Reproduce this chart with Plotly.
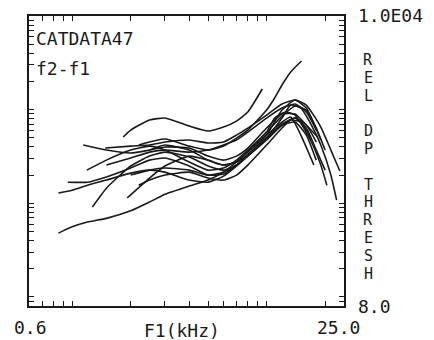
import plotly.graph_objects as go
import math

# frequency (kHz) and relative DP threshold values for each traced curve
c1_f = [0.85, 1.0, 1.2, 1.5, 2, 2.5, 3, 4, 5, 6, 7, 8, 10, 12, 13.3, 15, 17.5]
c1_v = [48, 56, 63, 69, 83, 103, 125, 153, 177, 215, 276, 352, 535, 737, 834, 535, 256]

c2_f = [0.85, 1.0, 1.2, 1.5, 2, 2.5, 3, 4, 5, 6, 7, 8, 10, 12, 13.3, 15, 17, 19, 21.4, 22.9]
c2_v = [129, 138, 156, 177, 210, 226, 215, 177, 168, 195, 250, 319, 497, 813, 1120, 1040, 685, 419, 200, 108]

c3_f = [0.95, 1.2, 1.5, 2, 2.5, 3, 4, 5, 6, 7, 8, 10, 12, 14, 16, 19, 21.4, 23.8]
c3_v = [168, 168, 191, 238, 289, 304, 250, 200, 205, 256, 327, 535, 990, 1266, 1120, 652, 370, 221]

c4_f = [1.19, 1.5, 2, 2.5, 3, 4, 5, 6, 7, 8, 10, 11, 12.5, 14, 16.8, 19, 20.4]
c4_v = [226, 289, 370, 408, 370, 276, 226, 238, 289, 370, 576, 813, 943, 876, 474, 256, 156]

c5_f = [1.14, 1.5, 2, 2.5, 3, 4, 5, 6, 7, 8, 10, 12, 14, 16, 18.3]
c5_v = [419, 370, 344, 370, 399, 389, 319, 289, 319, 389, 636, 897, 897, 685, 510]

c6_f = [1.48, 2, 2.5, 3, 4, 5, 6, 7, 8, 10, 12, 14, 16, 19]
c6_v = [389, 408, 419, 451, 474, 440, 451, 535, 636, 876, 1148, 1266, 1040, 474]

c7_f = [1.83, 2, 2.5, 3, 4, 5, 6, 7, 8, 9.5]
c7_v = [510, 605, 774, 813, 668, 591, 652, 755, 943, 1661]

c8_f = [1.27, 1.5, 2, 2.5, 3, 4, 5, 6, 7, 8, 10, 12, 14, 16, 18]
c8_v = [91, 145, 250, 319, 352, 312, 250, 226, 256, 319, 474, 685, 813, 685, 451]

c9_f = [1.92, 2.5, 3, 4, 5, 6, 7, 8, 10, 12, 14, 16, 18, 20]
c9_v = [114, 186, 250, 319, 289, 256, 276, 352, 576, 854, 1093, 990, 636, 370]

c10_f = [2.2, 3, 4, 5, 6, 7, 8, 10, 11, 12, 13.3, 15.1]
c10_v = [419, 485, 408, 370, 408, 497, 605, 990, 1330, 1831, 2522, 3306]

c11_f = [2.5, 3, 4, 5, 6, 7, 8, 10, 12, 14, 16, 18, 20]
c11_v = [370, 419, 370, 289, 256, 276, 327, 497, 702, 813, 636, 370, 226]

c12_f = [2, 2.5, 3, 4, 5, 6, 7, 8, 10, 12, 14, 16, 18]
c12_v = [200, 226, 238, 226, 200, 215, 256, 327, 497, 685, 737, 535, 289]

c13_f = [1.5, 2, 2.5, 3, 4, 5, 6, 7, 8, 10, 12, 14, 16, 18]
c13_v = [256, 304, 352, 370, 352, 370, 419, 474, 576, 813, 1040, 1148, 943, 605]

c14_f = [2.2, 2.5, 3, 4, 5, 6, 7, 8, 10, 12, 13.3, 15, 17]
c14_v = [156, 177, 200, 215, 186, 177, 200, 256, 419, 636, 774, 737, 474]

curves = [(c1_f, c1_v), (c2_f, c2_v), (c3_f, c3_v), (c4_f, c4_v), (c5_f, c5_v),
          (c6_f, c6_v), (c7_f, c7_v), (c8_f, c8_v), (c9_f, c9_v), (c10_f, c10_v),
          (c11_f, c11_v), (c12_f, c12_v), (c13_f, c13_v), (c14_f, c14_v)]

x_min, x_max = 0.6, 25.0
y_min, y_max = 8.0, 1.0e4

x_tick_vals = [0.6, 0.7, 0.8, 0.9, 1, 2, 3, 4, 5, 6, 7, 8, 9, 10, 20]
y_tick_vals = [8, 9] + [m * 10 ** d for d in range(1, 4) for m in range(1, 10)] + [10000]

right_label = ["R", "E", "L", "", "D", "P", "", "T", "H", "R", "E", "S", "H"]

FONT = "DejaVu Sans Mono"
INK = "#1a1a1a"

fig = go.Figure()
for f, v in curves:
    fig.add_trace(go.Scatter(x=f, y=v, mode="lines",
                             line=dict(color=INK, width=1.6, shape="spline", smoothing=0.5),
                             showlegend=False, hoverinfo="skip"))

axis_common = dict(showgrid=False, zeroline=False, showline=True, linecolor=INK,
                   linewidth=2, mirror="allticks", ticks="inside", ticklen=5,
                   tickwidth=1.3, tickcolor=INK, showticklabels=False)

fig.update_xaxes(type="log", range=[math.log10(x_min), math.log10(x_max)],
                 tickvals=x_tick_vals, **axis_common)
fig.update_yaxes(type="log", range=[math.log10(y_min), math.log10(y_max)],
                 tickvals=y_tick_vals, **axis_common)

def ann(text, x, y, xa="left", ya="middle", size=18):
    fig.add_annotation(text=text, x=x, y=y, xref="paper", yref="paper",
                       xanchor=xa, yanchor=ya, showarrow=False,
                       font=dict(family=FONT, size=size, color=INK))

W, H = 434, 340
L, R, T, B = 29, 344, 16, 306
pw, ph = R - L, B - T

def px(xp):
    return (xp - L) / pw

def py(yp):
    return 1 - (yp - T) / ph

ann("CATDATA47", px(34), py(38))
ann("f2-f1", px(34), py(68))
ann("1.0E04", px(356), py(15))
ann("8.0", px(356), py(306))
ann("0.6", px(30), py(327), xa="center")
ann("F1(kHz)", px(182), py(330), xa="center")
ann("25.0", px(338), py(327), xa="center")

y0 = 60
step = 17.8
for i, ch in enumerate(right_label):
    if ch:
        ann(ch, px(368), py(y0 + i * step), xa="center", size=15)

fig.update_layout(width=W, height=H, margin=dict(l=L, r=W - R, t=T, b=H - B),
                  paper_bgcolor="white", plot_bgcolor="white")

fig.write_html("out.html")
